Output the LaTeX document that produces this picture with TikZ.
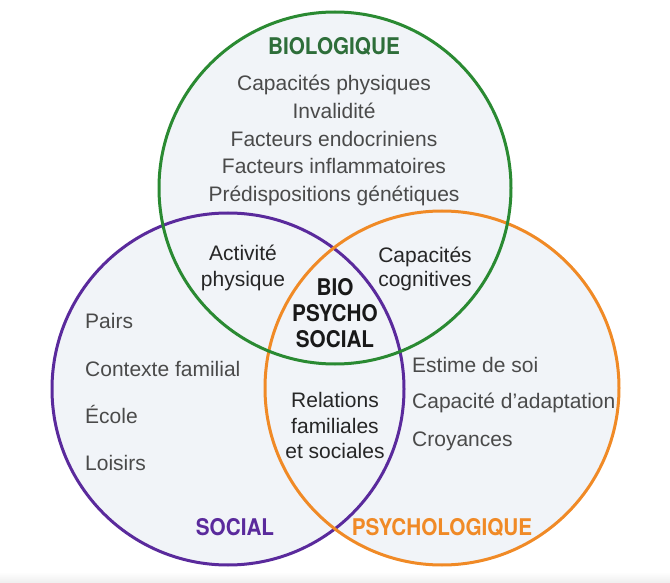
\documentclass[tikz,border=0pt]{standalone}
\usepackage{fontspec}
\setmainfont{Liberation Sans}
\newfontfamily\condfont{TeX Gyre Heros}[FakeStretch=0.9]
\definecolor{biogreen}{HTML}{2A8A32}
\definecolor{biotitle}{HTML}{2E6E3A}
\definecolor{socpurple}{HTML}{5A2A9C}
\definecolor{psyorange}{HTML}{F08A26}
\definecolor{diskfill}{HTML}{F1F4F8}
\definecolor{listgray}{HTML}{4A4A4A}
\definecolor{bandgray}{HTML}{EEEEEE}

\tikzset{
  disk/.style={fill=diskfill},
  ring/.style={line width=3pt},
  title/.style={font=\condfont\bfseries\fontsize{23}{27}\selectfont, inner sep=0pt, anchor=base},
  item/.style={font=\fontsize{21}{25}\selectfont, text=listgray, inner sep=0pt, anchor=base},
  overlap/.style={font=\fontsize{21}{25}\selectfont, text=black!85, inner sep=0pt, anchor=base},
}

\begin{document}
\begin{tikzpicture}[x=1pt,y=-1pt]
    \useasboundingbox (0,0) rectangle (670,583);
    % Bottom band
    \shade[top color=white, bottom color=bandgray] (0,572) rectangle (670,583);
    % Circle centres
    \coordinate (bio) at (335,188);
    \coordinate (soc) at (228,389);
    \coordinate (psy) at (442,388);
    % Fills first, then rings
    \fill[disk] (bio) circle[radius=176pt];
    \fill[disk] (soc) circle[radius=176pt];
    \fill[disk] (psy) circle[radius=177pt];
    \draw[ring, draw=socpurple] (soc) circle[radius=176pt];
    \draw[ring, draw=psyorange] (psy) circle[radius=177pt];
    \draw[ring, draw=biogreen] (bio) circle[radius=176pt];
    % Titles
    \node[title, text=biotitle] (biotitle) at (334,55) {BIOLOGIQUE};
    \node[title, text=socpurple] (soctitle) at (235,535) {SOCIAL};
    \node[title, text=psyorange] (psytitle) at (442,535) {PSYCHOLOGIQUE};
    % Biological factors
    \node[item] (bio1) at (334,91) {Capacités physiques};
    \node[item] (bio2) at (334,119) {Invalidité};
    \node[item] (bio3) at (334,147) {Facteurs endocriniens};
    \node[item] (bio4) at (334,174) {Facteurs inflammatoires};
    \node[item] (bio5) at (334,202) {Prédispositions génétiques};
    % Social factors
    \node[item, anchor=base west] (soc1) at (85,328) {Pairs};
    \node[item, anchor=base west] (soc2) at (85,376) {Contexte familial};
    \node[item, anchor=base west] (soc3) at (85,423) {École};
    \node[item, anchor=base west] (soc4) at (85,470) {Loisirs};
    % Psychological factors
    \node[item, anchor=base west] (psy1) at (412,372) {Estime de soi};
    \node[item, anchor=base west] (psy2) at (412,408) {Capacité d'adaptation};
    \node[item, anchor=base west] (psy3) at (412,446) {Croyances};
    % Overlaps
    \node[overlap] (biosoc1) at (243,261) {Activité};
    \node[overlap] (biosoc2) at (243,287) {physique};
    \node[overlap] (biopsy1) at (425,262) {Capacités};
    \node[overlap] (biopsy2) at (425,287) {cognitives};
    \node[overlap] (socpsy1) at (335,407) {Relations};
    \node[overlap] (socpsy2) at (335,433) {familiales};
    \node[overlap] (socpsy3) at (335,458) {et sociales};
    % Centre
    \node[title, text=black!90] (all1) at (335,295) {BIO};
    \node[title, text=black!90] (all2) at (335,321) {PSYCHO};
    \node[title, text=black!90] (all3) at (335,347) {SOCIAL};
\end{tikzpicture}
\end{document}
